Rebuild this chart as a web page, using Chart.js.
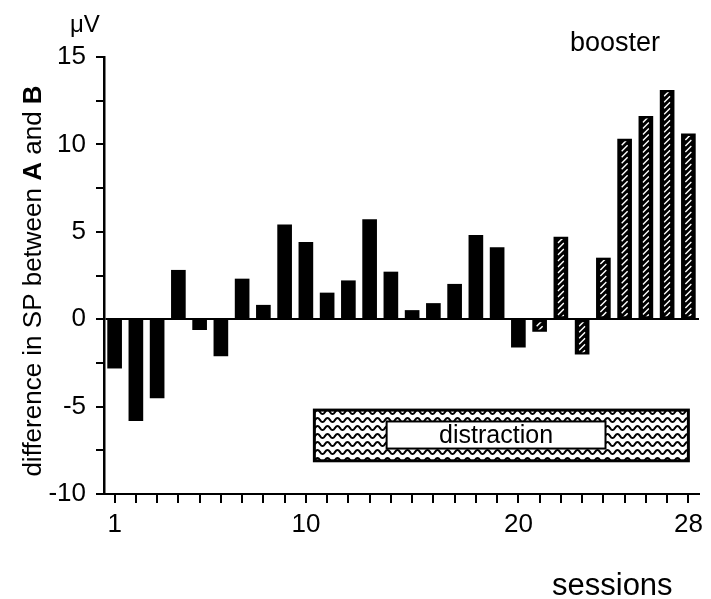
<!DOCTYPE html>
<html>
<head>
<meta charset="utf-8">
<script src="https://cdn.jsdelivr.net/npm/chart.js@4.4.1/dist/chart.umd.min.js"></script>
<style>
html,body{margin:0;padding:0;background:#fff;}
</style>
</head>
<body>
<canvas id="myChart" width="711" height="599"></canvas>
<script>
// data
var sessions = [1,2,3,4,5,6,7,8,9,10,11,12,13,14,15,16,17,18,19,20,21,22,23,24,25,26,27,28];
var diffSP = [-2.8,-5.8,-4.5,2.8,-0.6,-2.1,2.3,0.8,5.4,4.4,1.5,2.2,5.7,2.7,0.5,0.9,2.0,4.8,4.1,-1.6,-0.7,4.7,-2.0,3.5,10.3,11.6,13.1,10.6];
var boosterSessions = [21,22,23,24,25,26,27,28];
var xTickLabels = [1,10,20,28];
var yTickLabels = [-10,-5,0,5,10,15];

// distraction period (in sessions / µV)
var distractionX = [10.4, 28];
var distractionY = [-5.2, -8.1];
var distractionLabelX = [13.8, 24.1];
var distractionLabelY = [-5.85, -7.4];

var FONT = '"Liberation Sans", Arial, Helvetica, sans-serif';

function wavePattern(ctx){
    var c = document.createElement('canvas');
    c.width = 10; c.height = 8;
    var g = c.getContext('2d');
    g.fillStyle = '#fff';
    g.fillRect(0,0,10,8);
    g.strokeStyle = '#000';
    g.lineWidth = 2;
    g.beginPath();
    for (var x = -1; x <= 11; x += 0.5) {
        var y = 4 + 2*Math.sin(2*Math.PI*x/10);
        if (x === -1) g.moveTo(x,y); else g.lineTo(x,y);
    }
    g.stroke();
    return ctx.createPattern(c,'repeat');
}

var hatchPlugin = {
    id: 'hatch',
    afterDatasetsDraw: function(chart){
        var meta = chart.getDatasetMeta(0);
        var c = chart.ctx;
        meta.data.forEach(function(bar,i){
            if (boosterSessions.indexOf(sessions[i]) < 0) return;
            var p = bar.getProps(['x','y','base','width'], true);
            var l = p.x - p.width/2, r = p.x + p.width/2;
            var t = Math.min(p.y,p.base), b = Math.max(p.y,p.base);
            c.save();
            c.beginPath();
            c.rect(l+3.5, t+2, r-l-7, b-t-4);
            c.clip();
            c.strokeStyle = '#fff';
            c.lineWidth = 1.5;
            for (var yy = t; yy < b+8; yy += 6) {
                c.beginPath();
                c.moveTo(l+4, yy);
                c.lineTo(r-4, yy-6);
                c.stroke();
            }
            c.restore();
        });
    }
};

var distractionPlugin = {
    id: 'distraction',
    afterDatasetsDraw: function(chart){
        var c = chart.ctx, xs = chart.scales.x, ys = chart.scales.y;
        var x0 = xs.getPixelForValue(distractionX[0]-1), x1 = xs.getPixelForValue(distractionX[1]-1);
        var y0 = ys.getPixelForValue(distractionY[0]), y1 = ys.getPixelForValue(distractionY[1]);
        c.save();
        c.fillStyle = wavePattern(c);
        c.fillRect(x0,y0,x1-x0,y1-y0);
        c.lineWidth = 3;
        c.strokeStyle = '#000';
        c.strokeRect(x0,y0,x1-x0,y1-y0);
        var lx0 = xs.getPixelForValue(distractionLabelX[0]-1), lx1 = xs.getPixelForValue(distractionLabelX[1]-1);
        var ly0 = ys.getPixelForValue(distractionLabelY[0]), ly1 = ys.getPixelForValue(distractionLabelY[1]);
        c.fillStyle = '#fff';
        c.fillRect(lx0,ly0,lx1-lx0,ly1-ly0);
        c.lineWidth = 2;
        c.strokeRect(lx0,ly0,lx1-lx0,ly1-ly0);
        c.fillStyle = '#000';
        c.font = '25px ' + FONT;
        c.textAlign = 'center';
        c.textBaseline = 'middle';
        c.fillText('distraction', (lx0+lx1)/2, (ly0+ly1)/2 + 1);
        c.restore();
    }
};

var textPlugin = {
    id: 'texts',
    afterDraw: function(chart){
        var c = chart.ctx;
        c.save();
        c.fillStyle = '#000';
        c.textBaseline = 'alphabetic';
        c.textAlign = 'left';
        c.font = '24px ' + FONT;
        c.fillText('\u03bcV', 70, 32);
        c.font = '27px ' + FONT;
        c.fillText('booster', 570, 51);
        c.font = '31px ' + FONT;
        c.fillText('sessions', 552, 595);

        // y title with bold A and B
        var parts = [['difference in SP between ',false],['A',true],[' and ',false],['B',true]];
        var w = 0;
        parts.forEach(function(pt){
            c.font = (pt[1] ? 'bold ' : '') + '26px ' + FONT;
            pt.push(c.measureText(pt[0]).width);
            w += pt[2];
        });
        c.translate(41, 281);
        c.rotate(-Math.PI/2);
        var x = -w/2;
        parts.forEach(function(pt){
            c.font = (pt[1] ? 'bold ' : '') + '26px ' + FONT;
            c.fillText(pt[0], x, 0);
            x += pt[2];
        });
        c.restore();
    }
};

var ctx = document.getElementById('myChart').getContext('2d');
var chart = new Chart(ctx, {
    type: 'bar',
    data: {
        labels: sessions.map(String),
        datasets: [{
            data: diffSP,
            backgroundColor: '#000',
            borderWidth: 0,
            barThickness: 14
        }]
    },
    options: {
        responsive: false,
        animation: false,
        layout: { padding: { left: 0, right: 12, top: 57, bottom: 0 } },
        plugins: { legend: { display: false }, tooltip: { enabled: false } },
        scales: {
            x: {
                offset: true,
                grid: { offset: false, drawOnChartArea: false, drawTicks: true, tickLength: 9, color: '#000', lineWidth: 2 },
                border: { display: true, color: '#000', width: 2 },
                ticks: {
                    autoSkip: false, maxRotation: 0, padding: 6, color: '#000',
                    font: { family: FONT, size: 26 },
                    callback: function(v, i){ return xTickLabels.indexOf(sessions[i]) >= 0 ? String(sessions[i]) : ''; }
                },
                afterFit: function(s){ s.height = 105; }
            },
            y: {
                min: -10, max: 15,
                grid: {
                    color: function(c){ return c.tick && c.tick.value === 0 ? '#000' : 'rgba(0,0,0,0)'; },
                    tickColor: '#000', lineWidth: 2, tickLength: 8, drawTicks: true
                },
                border: { display: true, color: '#000', width: 2.5 },
                ticks: {
                    stepSize: 2.5, padding: 10, color: '#000',
                    font: { family: FONT, size: 26 },
                    callback: function(v){ return yTickLabels.indexOf(v) >= 0 ? String(v) : ''; }
                },
                afterFit: function(s){ s.width = 104; }
            }
        }
    },
    plugins: [hatchPlugin, distractionPlugin, textPlugin]
});
</script>
</body>
</html>
